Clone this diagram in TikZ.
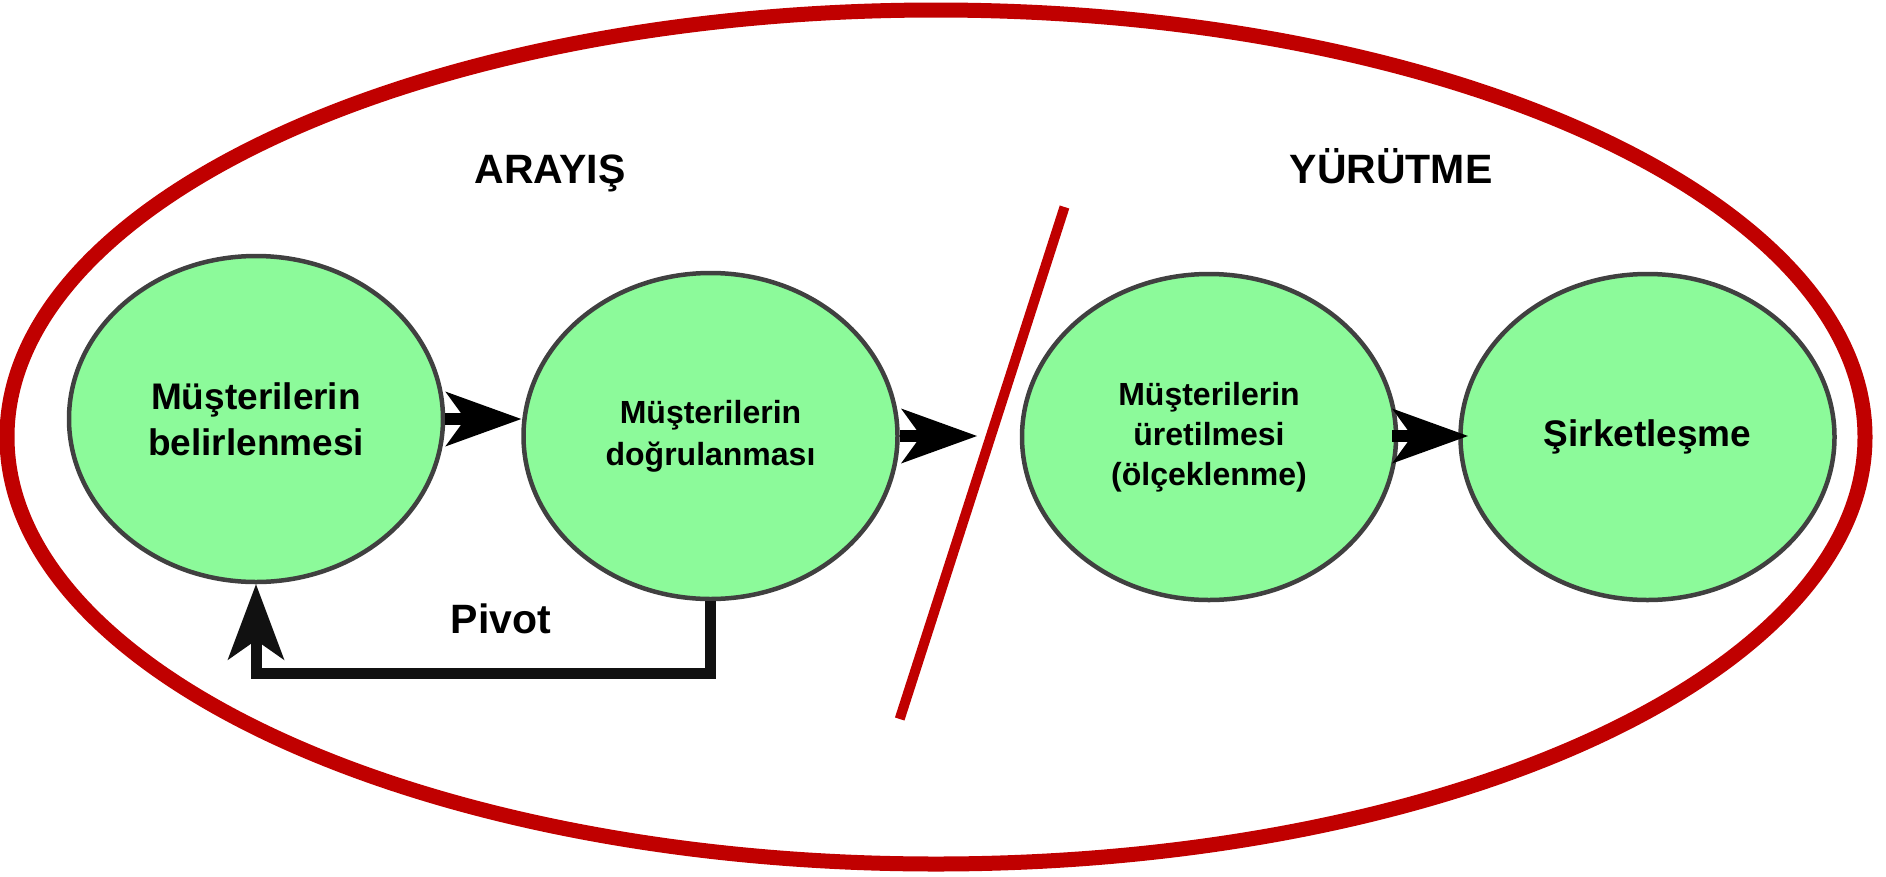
\documentclass[tikz,border=0pt]{standalone}
\usepackage{fontspec}
\setmainfont{Liberation Sans}
\usetikzlibrary{arrows.meta,shapes.geometric}
\definecolor{bubfill}{RGB}{140,250,154}
\definecolor{bubline}{RGB}{64,64,64}
\definecolor{redline}{RGB}{192,0,0}
\definecolor{inkblack}{RGB}{17,17,17}
\begin{document}
\begin{tikzpicture}[x=1pt,y=-1pt,
  bub/.style={ellipse, draw=bubline, line width=4.5pt, fill=bubfill,
    minimum width=374pt, minimum height=326pt, inner sep=0pt, align=center},
  bigtxt/.style={font=\fontsize{37}{46}\selectfont\bfseries},
  midtxt/.style={font=\fontsize{32}{42}\selectfont\bfseries},
  smtxt/.style={font=\fontsize{32}{40}\selectfont\bfseries},
  title/.style={font=\fontsize{41}{48}\selectfont\bfseries, anchor=base, inner sep=0pt},
  flow/.style={draw=black, line width=12pt,
    -{Stealth[length=76pt,width=55pt,inset=20pt,line width=0pt]}},
  pivotline/.style={draw=inkblack, line width=11pt, line join=miter,
    -{Stealth[length=76pt,width=57pt,inset=20pt,line width=0pt]}},
  border/.style={draw=redline, line width=15pt},
  slash/.style={draw=redline, line width=10pt}
]
\useasboundingbox (0,0) rectangle (1886,876);
\draw[border] (936,437) ellipse [x radius=929, y radius=427];
\draw[slash] (1064.5,207) -- (899.7,719);

\node[bub, bigtxt] (e1) at (256,419) {Müşterilerin\\belirlenmesi};
\node[bub, midtxt] (e2) at (710.5,436) {Müşterilerin\\doğrulanması};
\node[bub, smtxt] (e3) at (1209,437) {Müşterilerin\\üretilmesi\\(ölçeklenme)};
\node[bub, bigtxt] (e4) at (1647.5,437) {Şirketleşme};

\node[title] (t1) at (550,183) {ARAYIŞ};
\node[title] (t2) at (1391,183) {YÜRÜTME};
\node[title] (pv) at (501,633) {Pivot};

\draw[flow] (e1.east) -- (e1.east -| e2.west);
\coordinate (a2) at (977,436);
\draw[flow] (e2.east) -- (a2);
\coordinate (a3s) at (1392,436);
\coordinate (a3e) at (1468,436);
\draw[flow] (a3s) -- (a3e);

\coordinate (pc) at (256,673);
\draw[pivotline] (e2.south) |- (pc) -- (e1.south);
\end{tikzpicture}
\end{document}
